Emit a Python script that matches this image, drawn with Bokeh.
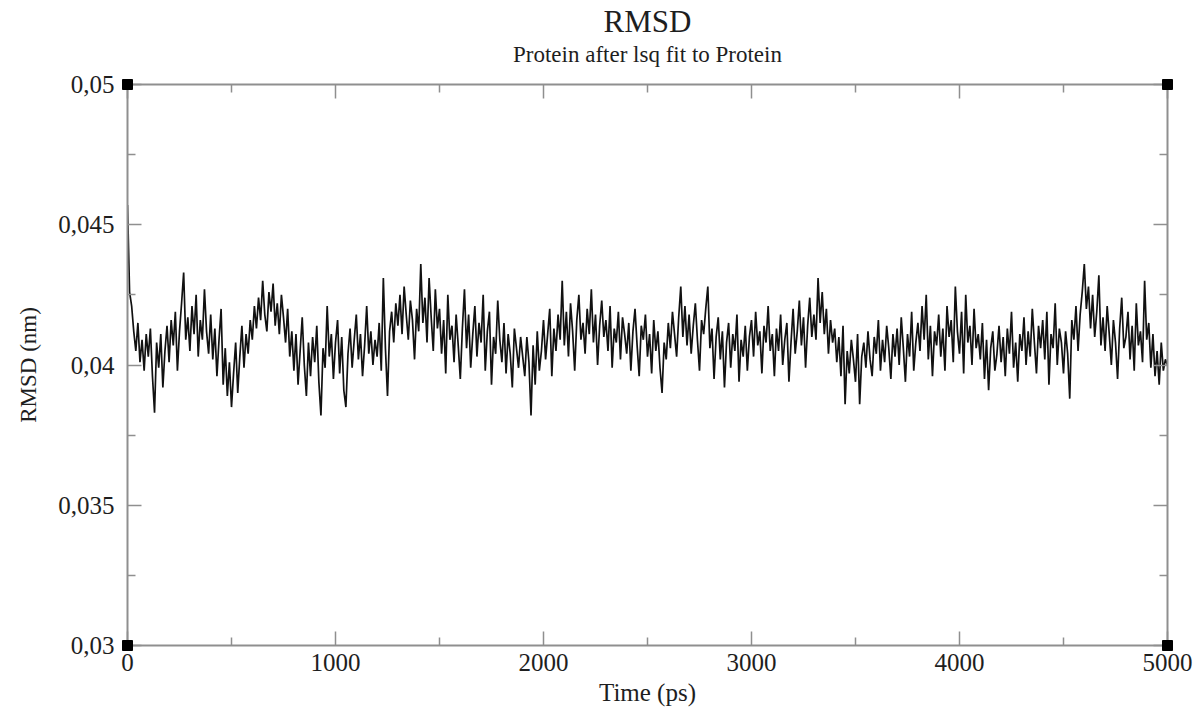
from bokeh.plotting import figure
from bokeh.models import FixedTicker, LinearAxis, Range1d
from bokeh.embed import file_html
from bokeh.resources import INLINE

# ---------------- data ----------------
title_text = "RMSD"
subtitle_text = "Protein after lsq fit to Protein"
x_label = "Time (ps)"
y_label = "RMSD (nm)"
x_limits = [0, 5000]
y_limits = [0.03, 0.05]
x_ticks = [0, 1000, 2000, 3000, 4000, 5000]
x_minor_ticks = [500, 1500, 2500, 3500, 4500]
y_ticks = [0.03, 0.035, 0.04, 0.045, 0.05]
y_tick_labels = ["0,03", "0,035", "0,04", "0,045", "0,05"]
y_minor_ticks = [0.0325, 0.0375, 0.0425, 0.0475]
time_step_ps = 10

rmsd = [
    0.0457, 0.0426, 0.0421, 0.0412, 0.0405, 0.0415, 0.0401, 0.0409, 0.0398, 0.0411,
    0.0403, 0.0413, 0.0396, 0.0383, 0.0408, 0.0399, 0.0411, 0.0392, 0.0405, 0.0414,
    0.0401, 0.0416, 0.0407, 0.0419, 0.0398, 0.0412, 0.0422, 0.0433, 0.0409, 0.0417,
    0.0405, 0.0421, 0.0411, 0.0425, 0.0403, 0.0416, 0.0409, 0.0427, 0.0412, 0.0404,
    0.0418, 0.0402, 0.0413, 0.0396, 0.0409, 0.0420, 0.0393, 0.0406, 0.0389, 0.0401,
    0.0385, 0.0397, 0.0408, 0.0390, 0.0403, 0.0414, 0.0399, 0.0411, 0.0404, 0.0416,
    0.0409, 0.0421, 0.0413, 0.0424, 0.0416, 0.0430, 0.0418, 0.0412, 0.0426, 0.0419,
    0.0429, 0.0414, 0.0422, 0.0411, 0.0425, 0.0417, 0.0408, 0.0420, 0.0403, 0.0412,
    0.0398, 0.0411, 0.0393, 0.0405, 0.0417, 0.0400, 0.0389, 0.0408, 0.0396, 0.0410,
    0.0401, 0.0414, 0.0394, 0.0382, 0.0406, 0.0399, 0.0421, 0.0403, 0.0411, 0.0395,
    0.0408, 0.0416, 0.0397, 0.0410, 0.0391, 0.0385, 0.0404, 0.0413, 0.0399, 0.0409,
    0.0418, 0.0402, 0.0411, 0.0396, 0.0407, 0.0421, 0.0404, 0.0412, 0.0400, 0.0409,
    0.0403, 0.0415, 0.0398, 0.0431, 0.0406, 0.0389, 0.0412, 0.0419, 0.0408, 0.0422,
    0.0414, 0.0425, 0.0411, 0.0428, 0.0418, 0.0409, 0.0423, 0.0416, 0.0402, 0.0420,
    0.0412, 0.0436, 0.0415, 0.0424, 0.0408, 0.0431, 0.0417, 0.0405, 0.0427, 0.0413,
    0.0420, 0.0404, 0.0416, 0.0397, 0.0425, 0.0409, 0.0414, 0.0401, 0.0418, 0.0407,
    0.0395, 0.0413, 0.0427, 0.0406, 0.0418, 0.0399, 0.0411, 0.0421, 0.0403, 0.0415,
    0.0408, 0.0425, 0.0398, 0.0412, 0.0419, 0.0393, 0.0410, 0.0404, 0.0423, 0.0409,
    0.0401, 0.0415, 0.0397, 0.0411, 0.0404, 0.0392, 0.0413, 0.0406, 0.0399, 0.0410,
    0.0403, 0.0396, 0.0410, 0.0401, 0.0382, 0.0407, 0.0393, 0.0412, 0.0398, 0.0405,
    0.0416, 0.0402, 0.0411, 0.0420, 0.0396, 0.0413, 0.0405, 0.0418, 0.0409, 0.0430,
    0.0407, 0.0419, 0.0403, 0.0422, 0.0412, 0.0398, 0.0416, 0.0425, 0.0409, 0.0415,
    0.0404, 0.0420, 0.0411, 0.0427, 0.0408, 0.0418, 0.0400, 0.0414, 0.0423, 0.0410,
    0.0416, 0.0405, 0.0421, 0.0399, 0.0413, 0.0408, 0.0419, 0.0402, 0.0417, 0.0411,
    0.0404, 0.0415, 0.0398, 0.0412, 0.0420, 0.0407, 0.0396, 0.0414, 0.0409, 0.0418,
    0.0403, 0.0411, 0.0397, 0.0416, 0.0405, 0.0412, 0.0399, 0.0390, 0.0408, 0.0402,
    0.0415, 0.0406, 0.0419, 0.0411, 0.0403, 0.0417, 0.0428, 0.0410, 0.0421, 0.0407,
    0.0418, 0.0404, 0.0414, 0.0422, 0.0409, 0.0398, 0.0416, 0.0411, 0.0420, 0.0428,
    0.0406, 0.0413, 0.0395, 0.0410, 0.0417, 0.0402, 0.0412, 0.0392, 0.0408, 0.0415,
    0.0399, 0.0411, 0.0405, 0.0418, 0.0394, 0.0409, 0.0403, 0.0414, 0.0398, 0.0410,
    0.0416, 0.0403, 0.0419, 0.0407, 0.0412, 0.0397, 0.0414, 0.0408, 0.0421, 0.0405,
    0.0411, 0.0396, 0.0413, 0.0405, 0.0418, 0.0400, 0.0409, 0.0415, 0.0394, 0.0408,
    0.0420, 0.0404, 0.0412, 0.0423, 0.0407, 0.0417, 0.0399, 0.0414, 0.0424, 0.0410,
    0.0418, 0.0409, 0.0431, 0.0415, 0.0426, 0.0411, 0.0420, 0.0404, 0.0416, 0.0408,
    0.0413, 0.0401, 0.0410, 0.0396, 0.0414, 0.0386, 0.0405, 0.0397, 0.0409, 0.0402,
    0.0394, 0.0411, 0.0386, 0.0403, 0.0408, 0.0399, 0.0412, 0.0402, 0.0396, 0.0410,
    0.0404, 0.0416, 0.0398, 0.0409, 0.0401, 0.0414, 0.0406, 0.0395, 0.0411, 0.0403,
    0.0413, 0.0400, 0.0417, 0.0406, 0.0394, 0.0411, 0.0403, 0.0419, 0.0398, 0.0408,
    0.0415, 0.0405, 0.0421, 0.0409, 0.0425, 0.0402, 0.0414, 0.0396, 0.0412, 0.0407,
    0.0418, 0.0403, 0.0413, 0.0398, 0.0421, 0.0410, 0.0416, 0.0401, 0.0428, 0.0412,
    0.0404, 0.0419, 0.0397, 0.0425, 0.0408, 0.0414, 0.0400, 0.0420, 0.0406, 0.0411,
    0.0402, 0.0415, 0.0395, 0.0409, 0.0391, 0.0406, 0.0412, 0.0398, 0.0404, 0.0414,
    0.0401, 0.0410, 0.0396, 0.0413, 0.0404, 0.0419, 0.0399, 0.0408, 0.0394, 0.0411,
    0.0405, 0.0417, 0.0400, 0.0412, 0.0403, 0.0420, 0.0408, 0.0397, 0.0414, 0.0406,
    0.0416, 0.0402, 0.0419, 0.0393, 0.0411, 0.0406, 0.0422, 0.0400, 0.0413, 0.0408,
    0.0397, 0.0412, 0.0404, 0.0388, 0.0416, 0.0409, 0.0421, 0.0405, 0.0418, 0.0426,
    0.0436, 0.0420, 0.0428, 0.0413, 0.0425, 0.0410, 0.0419, 0.0432, 0.0407, 0.0417,
    0.0405, 0.0421, 0.0411, 0.0400, 0.0416, 0.0408, 0.0395, 0.0413, 0.0424, 0.0406,
    0.0410, 0.0419, 0.0402, 0.0414, 0.0398, 0.0422, 0.0407, 0.0412, 0.0401, 0.0430,
    0.0409, 0.0415, 0.0399, 0.0411, 0.0396, 0.0405, 0.0393, 0.0408, 0.0398, 0.0402,
    0.0400,
]
time_ps = [i * time_step_ps for i in range(len(rmsd))]

# ---------------- style ----------------
FONT = "Liberation Serif"
FRAME = "#8f8f8f"
TXT = "#1e1e1e"

p = figure(
    width=1200, height=713,
    x_range=Range1d(*x_limits), y_range=Range1d(*y_limits),
    x_axis_type=None, y_axis_type=None,
    output_backend="svg", toolbar_location=None, title=None,
    min_border_left=127, min_border_right=33, min_border_bottom=68, min_border_top=82,
)
p.outline_line_color = None
p.background_fill_color = "white"
p.border_fill_color = "white"

xt = FixedTicker(ticks=x_ticks, minor_ticks=x_minor_ticks)
yt = FixedTicker(ticks=y_ticks, minor_ticks=y_minor_ticks)


def style_axis(ax, labels):
    ax.axis_line_color = FRAME
    ax.axis_line_width = 2
    ax.major_tick_line_color = FRAME
    ax.major_tick_line_width = 1.5
    ax.minor_tick_line_color = FRAME
    ax.minor_tick_line_width = 1.5
    ax.major_tick_in = 14
    ax.major_tick_out = 0
    ax.minor_tick_in = 8
    ax.minor_tick_out = 0
    ax.axis_label_text_font = FONT
    ax.axis_label_text_font_style = "normal"
    ax.axis_label_text_color = TXT
    if labels:
        ax.major_label_text_font = FONT
        ax.major_label_text_font_size = "25px"
        ax.major_label_text_color = TXT
    else:
        ax.major_label_text_font_size = "1px"
        ax.major_label_text_alpha = 0
        ax.major_label_standoff = 0


bottom = LinearAxis(ticker=xt, axis_label=x_label)
style_axis(bottom, True)
bottom.major_label_standoff = 8
bottom.axis_label_text_font_size = "25px"
bottom.axis_label_standoff = 5
p.add_layout(bottom, "below")

left = LinearAxis(ticker=yt, axis_label=y_label,
                  major_label_overrides={t: s for t, s in zip(y_ticks, y_tick_labels)})
style_axis(left, True)
left.major_label_standoff = 13
left.axis_label_text_font_size = "23px"
left.axis_label_standoff = 14
p.add_layout(left, "left")

# top frame axis carries the subtitle as its label
top = LinearAxis(ticker=xt, axis_label=subtitle_text)
style_axis(top, False)
top.axis_label_text_font_size = "23px"
top.axis_label_standoff = 18
p.add_layout(top, "above")

# an invisible outer axis carries the main title
title_axis = LinearAxis(ticker=FixedTicker(ticks=[]), axis_label=title_text)
style_axis(title_axis, False)
title_axis.axis_line_color = None
title_axis.major_tick_line_color = None
title_axis.minor_tick_line_color = None
title_axis.major_tick_in = 0
title_axis.minor_tick_in = 0
title_axis.axis_label_text_font_size = "31px"
title_axis.axis_label_standoff = 0
p.add_layout(title_axis, "above")

right = LinearAxis(ticker=yt)
style_axis(right, False)
p.add_layout(right, "right")

p.line(time_ps, rmsd, line_color="#111111", line_width=1.7)

# small square markers at the frame corners (Grace style)
p.scatter([x_limits[0], x_limits[1], x_limits[0], x_limits[1]],
          [y_limits[1], y_limits[1], y_limits[0], y_limits[0]],
          marker="square", size=10, color="black", level="overlay")

open("out.html", "w").write(file_html(p, INLINE))
